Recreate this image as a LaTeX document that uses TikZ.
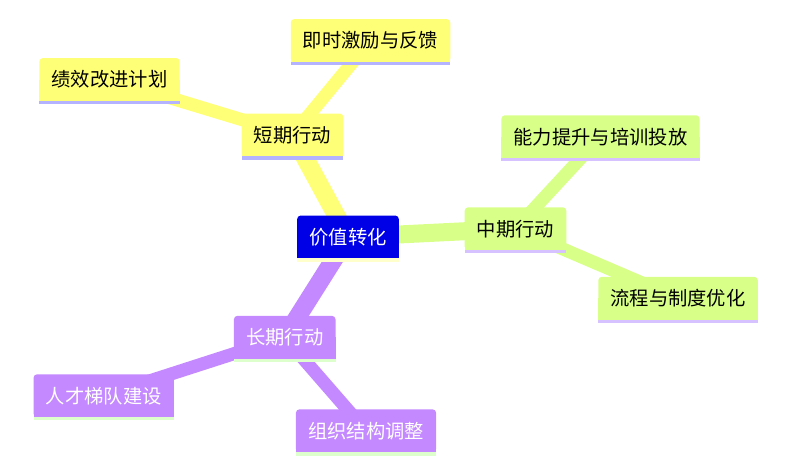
\documentclass[tikz,border=0pt]{standalone}
\usepackage{fontspec}
\setmainfont{Noto Sans CJK SC}
\usetikzlibrary{calc}
\pgfdeclarelayer{bg}
\pgfdeclarelayer{mid}
\pgfsetlayers{bg,mid,main}
\definecolor{ylw}{HTML}{FFFF77}
\definecolor{ylwline}{HTML}{B3B3FF}
\definecolor{lime}{HTML}{D8FF88}
\definecolor{limeline}{HTML}{D6C2FF}
\definecolor{purp}{HTML}{C488FF}
\definecolor{purpline}{HTML}{DDFFCC}
\definecolor{ctr}{HTML}{0000E6}
\definecolor{ctrline}{HTML}{FFFFCC}
\tikzset{
  mmtext/.style={font=\fontsize{19.3}{22}\selectfont, inner xsep=12pt, inner ysep=0pt, minimum height=42.5pt},
  lvlone/.style={line width=18pt},
  lvltwo/.style={line width=13pt},
}
\newcommand\mmnode[6]{%
  \node[mmtext, text=#6] (#1) at (#2) {#3};
  \begin{pgfonlayer}{mid}
    \fill[#4, rounded corners=3.5pt] (#1.south west) rectangle (#1.north east);
    \fill[#4] (#1.south west) rectangle (#1.east);
    \fill[#5] (#1.south west) rectangle ([yshift=-3.3pt]#1.south east);
  \end{pgfonlayer}%
}
\begin{document}
\begin{tikzpicture}[x=1pt,y=-1pt]
\useasboundingbox (0,0) rectangle (794,463);
\mmnode{c}{348,237}{价值转化}{ctr}{ctrline}{white}
\mmnode{s}{292.5,135}{短期行动}{ylw}{ylwline}{black}
\mmnode{s1}{370.5,40.5}{即时激励与反馈}{ylw}{ylwline}{black}
\mmnode{s2}{109.5,79.5}{绩效改进计划}{ylw}{ylwline}{black}
\mmnode{m}{515.5,228.7}{中期行动}{lime}{limeline}{black}
\mmnode{m1}{600.5,136.7}{能力提升与培训投放}{lime}{limeline}{black}
\mmnode{m2}{678,298.3}{流程与制度优化}{lime}{limeline}{black}
\mmnode{l}{284.7,337.3}{长期行动}{purp}{purpline}{white}
\mmnode{l1}{103.7,395.7}{人才梯队建设}{purp}{purpline}{white}
\mmnode{l2}{366,430.8}{组织结构调整}{purp}{purpline}{white}
\begin{pgfonlayer}{bg}
  \draw[lvlone, ylw] (c.center) -- (s.center);
  \draw[lvltwo, ylw] (s.center) -- (s1.center);
  \draw[lvltwo, ylw] (s.center) -- (s2.center);
  \draw[lvlone, lime] (c.center) -- (m.center);
  \draw[lvltwo, lime] (m.center) -- (m1.center);
  \draw[lvltwo, lime] (m.center) -- (m2.center);
  \draw[lvlone, purp] (c.center) -- (l.center);
  \draw[lvltwo, purp] (l.center) -- (l1.center);
  \draw[lvltwo, purp] (l.center) -- (l2.center);
\end{pgfonlayer}
\end{tikzpicture}
\end{document}
